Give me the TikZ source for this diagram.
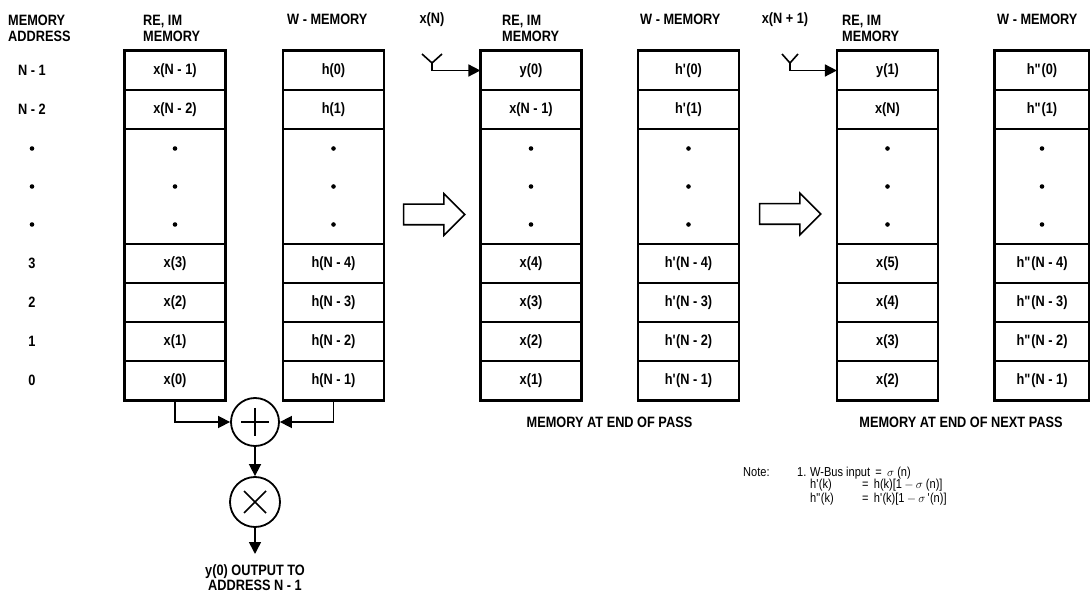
\documentclass[tikz,border=0pt]{standalone}
\usepackage{fontspec}
\setmainfont{Liberation Sans}[FakeStretch=0.85]
\usetikzlibrary{arrows.meta,positioning,shapes.arrows,calc}
\newcommand{\pr}{\textquotesingle}
\newcommand{\dpr}{\textquotedbl}

\begin{document}
\begin{tikzpicture}[
  x=1pt, y=-1pt,
  font=\fontsize{15}{16}\selectfont\bfseries,
  cell/.style={draw, line width=1.2pt, minimum width=100pt, minimum height=39pt, inner sep=0pt},
  gap/.style={cell, minimum height=115pt},
  cut/.style={minimum width=94pt},
  frame/.style={line width=2.2pt},
  head/.style={align=left, anchor=north west, inner sep=0pt},
  addr/.style={inner sep=0pt},
  wire/.style={line width=1.6pt},
  arr/.style={-{Triangle[length=12pt,width=12pt]}, line width=1.6pt},
  op/.style={draw, circle, line width=1.8pt, minimum size=48pt, inner sep=0pt},
  pass/.style={draw, line width=1.6pt, single arrow, single arrow head extend=10.5pt, minimum width=40pt, minimum height=61pt, inner xsep=0pt, inner ysep=9.5pt},
  note/.style={font=\fontsize{13}{13}\selectfont\mdseries, anchor=base west, inner sep=0pt}
]
\useasboundingbox (0,0) rectangle (1090,593);
% Headers
\node[head] (hadr) at (8,15) {MEMORY\\ADDRESS};
\node[head] (hre1) at (143,15) {RE, IM\\MEMORY};
\node[head] (hw1) at (287,14) {W - MEMORY};
\node[head] (hre2) at (502,15) {RE, IM\\MEMORY};
\node[head] (hw2) at (640,14) {W - MEMORY};
\node[head] (hre3) at (842,15) {RE, IM\\MEMORY};
\node[head] (hw3) at (997,14) {W - MEMORY};
% Memory addresses
\foreach \lab/\yy [count=\i] in {N - 1/70.5, N - 2/109.5, 3/263.5, 2/302.5, 1/341.5, 0/380.5}
  \node[addr] (ad-\i) at (32,\yy) {\lab};
\foreach \yy in {148.5,186.5,224.5} \fill (32,\yy) circle (2.3pt);
% Panel 1: before the pass
\foreach \lab/\yy [count=\i] in {x(N - 1)/70.5, x(N - 2)/109.5, x(3)/263.5, x(2)/302.5, x(1)/341.5, x(0)/380.5}
  \node[cell] (re1-\i) at (175,\yy) {\lab};
\foreach \lab/\yy [count=\i] in {h(0)/70.5, h(1)/109.5, h(N - 4)/263.5, h(N - 3)/302.5, h(N - 2)/341.5, h(N - 1)/380.5}
  \node[cell] (w1-\i) at (333.5,\yy) {\lab};
% Panel 2: end of pass
\foreach \lab/\yy [count=\i] in {y(0)/70.5, x(N - 1)/109.5, x(4)/263.5, x(3)/302.5, x(2)/341.5, x(1)/380.5}
  \node[cell] (re2-\i) at (531,\yy) {\lab};
\foreach \lab/\yy [count=\i] in {h\pr(0)/70.5, h\pr(1)/109.5, h\pr(N - 4)/263.5, h\pr(N - 3)/302.5, h\pr(N - 2)/341.5, h\pr(N - 1)/380.5}
  \node[cell] (w2-\i) at (688.5,\yy) {\lab};
% Panel 3: end of next pass
\foreach \lab/\yy [count=\i] in {y(1)/70.5, x(N)/109.5, x(5)/263.5, x(4)/302.5, x(3)/341.5, x(2)/380.5}
  \node[cell] (re3-\i) at (887.5,\yy) {\lab};
\foreach \lab/\yy [count=\i] in {h\dpr(0)/70.5, h\dpr(1)/109.5, h\dpr(N - 4)/263.5, h\dpr(N - 3)/302.5, h\dpr(N - 2)/341.5, h\dpr(N - 1)/380.5}
  \node[cell, cut] (w3-\i) at (1042,\yy) {\lab};
% Dotted gaps and frames
\foreach \c/\cx/\st in {re1/175/, w1/333.5/, re2/531/, w2/688.5/, re3/887.5/, w3/1042/cut} {
  \node[gap, \st] (\c-g) at (\cx,186.5) {};
  \foreach \dy in {-38,0,38} \fill ($(\c-g.center)+(0,\dy)$) circle (2.3pt);
  \draw[frame] (\c-1.north west) rectangle (\c-6.south east);
}
% Pass arrows
\node[pass] (p1) at (429,214.5) {};
\node[pass] (p2) at (785,214) {};
% Inputs
\node (xn) at (432,20) {x(N)};
\coordinate (fk2) at (432,63);
\draw[wire] ($(fk2)+(-10,-9)$) -- (fk2) -- ($(fk2)+(10,-9)$);
\draw[arr] (fk2) |- (re2-1.west);
\node (xn1) at (785,20) {x(N + 1)};
\coordinate (fk3) at (790,63);
\draw[wire] ($(fk3)+(-8,-9)$) -- (fk3) -- ($(fk3)+(8,-9)$);
\draw[arr] (fk3) |- (re3-1.west);
% Multiply-accumulate
\node[op] (sum) at (255,422) {};
\draw[wire] ($(sum)+(-14,0)$) -- ($(sum)+(14,0)$) ($(sum)+(0,-14)$) -- ($(sum)+(0,14)$);
\node[op, minimum size=50pt] (mul) at (255,502) {};
\draw[wire] ($(mul)+(-11,-11)$) -- ($(mul)+(11,11)$) ($(mul)+(-11,11)$) -- ($(mul)+(11,-11)$);
\node[align=center, inner ysep=10pt, inner xsep=0pt, anchor=north, font=\fontsize{15}{15}\selectfont\bfseries] (out) at (255,554) {y(0) OUTPUT TO\\ADDRESS N - 1};
\draw[arr] (re1-6.south) |- (sum.west);
\draw[arr] (w1-6.south) |- (sum.east);
\draw[arr] (sum) -- (mul);
\draw[arr] (mul) -- (out);
% Captions and note
\node (cap2) at (609.5,422) {MEMORY AT END OF PASS};
\node (cap3) at (961,422) {MEMORY AT END OF NEXT PASS};
\node[note] (nt) at (743,476) {Note:};
\node[note] (n1) at (797,476) {1.};
\node[note] (n2) at (810,476) {W-Bus input \,=\, $\sigma$ (n)};
\node[note] (n3) at (810,489) {\makebox[52pt][l]{h\pr(k)}=\, h(k)[1\,$-$\,$\sigma$ (n)]};
\node[note] (n4) at (810,502) {\makebox[52pt][l]{h\dpr(k)}=\, h\pr(k)[1\,$-$\,$\sigma$\,\pr(n)]};
\end{tikzpicture}
\end{document}
